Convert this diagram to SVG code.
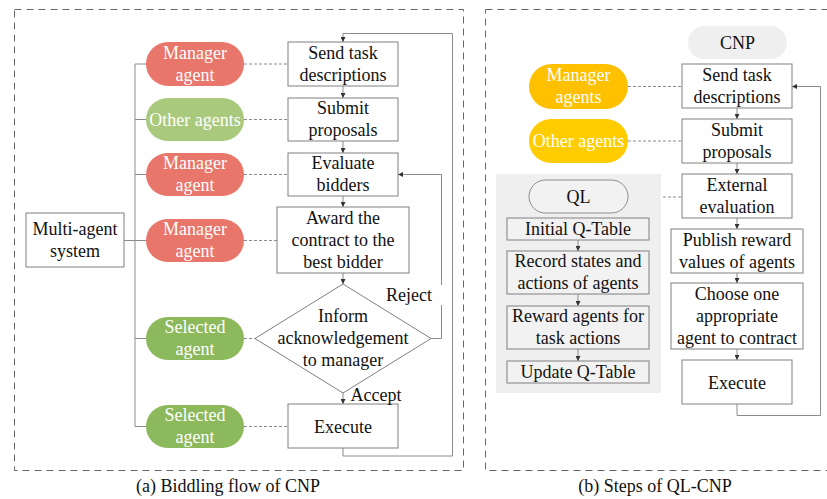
<svg xmlns="http://www.w3.org/2000/svg" width="827" height="499" viewBox="0 0 827 499">
<style>
text{font-family:"Liberation Serif","Times New Roman",serif;font-size:18px;text-anchor:middle;fill:#111}
.w{fill:#fff}
.box{fill:#fff;stroke:#808080;stroke-width:1}
.gbox{fill:#f2f2f2;stroke:#808080;stroke-width:1}
.frame{fill:none;stroke:#666;stroke-width:1;stroke-dasharray:7,5}
.ln{fill:none;stroke:#8c8c8c;stroke-width:1}
.ar{fill:none;stroke:#8c8c8c;stroke-width:1;marker-end:url(#ah)}
.dl{fill:none;stroke:#8c8c8c;stroke-width:1;stroke-dasharray:3,2}
</style>
<defs>
<marker id="ah" viewBox="0 0 8 8" refX="8" refY="4" markerWidth="5" markerHeight="5" markerUnits="userSpaceOnUse" orient="auto"><path d="M0,0 L8,4 L0,8 z" fill="#333"/></marker>
</defs>
<rect width="827" height="499" fill="#fff"/>
<rect class="frame" x="14.5" y="9.5" width="449" height="461"/>
<rect class="frame" x="485.5" y="9.5" width="345" height="461"/>
<text x="228" y="492">(a) Biddling flow of CNP</text>
<text x="655" y="492">(b) Steps of QL-CNP</text>

<g id="connectors">
<path class="ln" d="M135,64 V426.5 M124,240.5 H146 M135,64 H146 M135,119.5 H146 M135,174.5 H146 M135,338.5 H146 M135,426.5 H146"/>
<path class="dl" d="M244,64 H288 M244,119.5 H288 M244,174.5 H288 M244,240.5 H277 M244,338.5 H255 M244,426.5 H288"/>
<path class="ar" d="M343,86 V98"/>
<path class="ar" d="M343,141 V153"/>
<path class="ar" d="M343,196 V207"/>
<path class="ar" d="M343,273 V284"/>
<path class="ar" d="M343,393 V404"/>
<path class="ar" d="M343,448 V456 H452.5 V33.5 H343 V42"/>
<path class="ln" d="M431,338.5 H441.5 V305"/>
<path class="ar" d="M441.5,285 V174.5 H398"/>
<path class="dl" d="M628,86.5 H682 M628,141 H682 M628,197 H682"/>
<path class="ar" d="M737,108 V119"/>
<path class="ar" d="M737,163 V174"/>
<path class="ar" d="M737,218 V229"/>
<path class="ar" d="M737,273 V283"/>
<path class="ar" d="M737,349 V360"/>
<path class="ar" d="M737,404 V415.5 H820.5 V86.5 H792"/>
</g>

<g id="multi-agent"><rect class="box" x="26" y="213" width="98" height="54"/><text x="75" y="235">Multi-agent</text><text x="75" y="257">system</text></g>

<g id="pill-manager1"><rect x="146" y="42" width="98" height="44" rx="22" fill="#e8766a"/><text class="w" x="195" y="59">Manager</text><text class="w" x="195" y="81">agent</text></g>
<g id="pill-other"><rect x="146" y="98" width="98" height="43" rx="21.5" fill="#a9c97c"/><text class="w" x="195" y="126">Other agents</text></g>
<g id="pill-manager2"><rect x="146" y="153" width="98" height="43" rx="21.5" fill="#e8766a"/><text class="w" x="195" y="169">Manager</text><text class="w" x="195" y="191">agent</text></g>
<g id="pill-manager3"><rect x="146" y="219" width="98" height="43" rx="21.5" fill="#e8766a"/><text class="w" x="195" y="235">Manager</text><text class="w" x="195" y="257">agent</text></g>
<g id="pill-selected1"><rect x="146" y="317" width="98" height="43" rx="21.5" fill="#8db95d"/><text class="w" x="195" y="333">Selected</text><text class="w" x="195" y="355">agent</text></g>
<g id="pill-selected2"><rect x="146" y="405" width="98" height="43" rx="21.5" fill="#8db95d"/><text class="w" x="195" y="421">Selected</text><text class="w" x="195" y="443">agent</text></g>

<g id="a-send"><rect class="box" x="288" y="42" width="110" height="44"/><text x="343" y="59">Send task</text><text x="343" y="81">descriptions</text></g>
<g id="a-submit"><rect class="box" x="288" y="98" width="110" height="43"/><text x="343" y="114">Submit</text><text x="343" y="136">proposals</text></g>
<g id="a-evaluate"><rect class="box" x="288" y="153" width="110" height="43"/><text x="343" y="169">Evaluate</text><text x="343" y="191">bidders</text></g>
<g id="a-award"><rect class="box" x="277" y="207" width="132" height="66"/><text x="343" y="224">Award the</text><text x="343" y="246">contract to the</text><text x="343" y="268">best bidder</text></g>
<g id="a-inform"><path class="box" d="M343,284 L431,338.5 L343,393 L255,338.5 Z"/><text x="343" y="322">Inform</text><text x="343" y="344">acknowledgement</text><text x="343" y="366">to manager</text></g>
<g id="a-execute"><rect class="box" x="288" y="404" width="110" height="44"/><text x="343" y="433">Execute</text></g>
<text x="409" y="301">Reject</text>
<text x="376" y="401">Accept</text>

<g id="cnp-label"><rect x="688" y="26" width="99" height="33" rx="16.5" fill="#efefef"/><text x="737.5" y="49">CNP</text></g>
<g id="b-manager"><rect x="529" y="64" width="99" height="45" rx="22.5" fill="#ffc000"/><text class="w" x="578.5" y="81">Manager</text><text class="w" x="578.5" y="103">agents</text></g>
<g id="b-other"><rect x="529" y="119" width="99" height="44" rx="22" fill="#ffcc00"/><text class="w" x="578.5" y="147">Other agents</text></g>

<g id="ql-panel"><rect x="496" y="174" width="165" height="219" fill="#efefef"/></g>
<g id="b-ql"><rect x="529" y="180" width="99" height="33" rx="16.5" fill="#f2f2f2" stroke="#8c8c8c"/><text x="578.5" y="203">QL</text></g>
<path class="ar" d="M578,240 V251"/>
<path class="ar" d="M578,294 V306"/>
<path class="ar" d="M578,349 V361"/>
<g id="b-initial"><rect class="gbox" x="507" y="218" width="142" height="22"/><text x="578" y="235">Initial Q-Table</text></g>
<g id="b-record"><rect class="gbox" x="507" y="251" width="142" height="43"/><text x="578" y="267">Record states and</text><text x="578" y="289">actions of agents</text></g>
<g id="b-reward"><rect class="gbox" x="507" y="306" width="142" height="43"/><text x="578" y="322">Reward agents for</text><text x="578" y="344">task actions</text></g>
<g id="b-update"><rect class="gbox" x="507" y="361" width="142" height="22"/><text x="578" y="378">Update Q-Table</text></g>

<g id="b-send"><rect class="box" x="682" y="64" width="110" height="44"/><text x="737" y="81">Send task</text><text x="737" y="103">descriptions</text></g>
<g id="b-submit"><rect class="box" x="682" y="119" width="110" height="44"/><text x="737" y="136">Submit</text><text x="737" y="158">proposals</text></g>
<g id="b-external"><rect class="box" x="682" y="174" width="110" height="44"/><text x="737" y="191">External</text><text x="737" y="213">evaluation</text></g>
<g id="b-publish"><rect class="box" x="671" y="229" width="132" height="44"/><text x="737" y="246">Publish reward</text><text x="737" y="268">values of agents</text></g>
<g id="b-choose"><rect class="box" x="671" y="283" width="132" height="66"/><text x="737" y="300">Choose one</text><text x="737" y="322">appropriate</text><text x="737" y="344">agent to contract</text></g>
<g id="b-execute"><rect class="box" x="682" y="360" width="110" height="44"/><text x="737" y="389">Execute</text></g>
</svg>
